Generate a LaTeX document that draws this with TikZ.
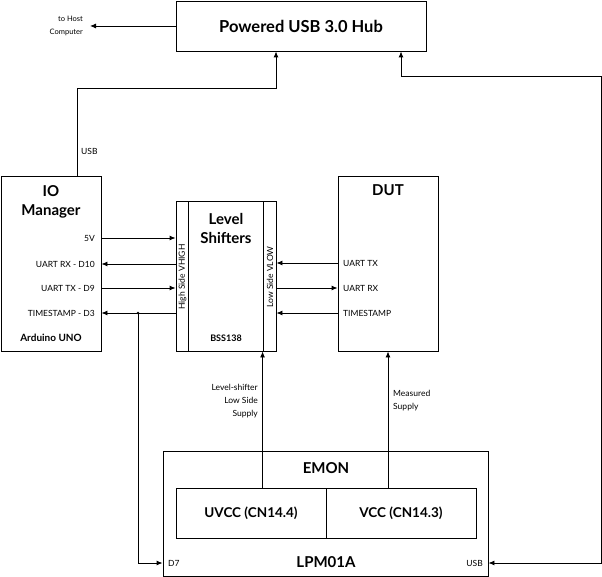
\documentclass[tikz,border=0pt]{standalone}
\usepackage{fontspec}
\setmainfont{Lato}
\usetikzlibrary{arrows.meta}
\begin{document}
\begin{tikzpicture}[x=1pt,y=-1pt,
  box/.style={draw,line width=0.9pt,inner sep=0pt,minimum width=#1},
  lbl/.style={font=\fontsize{8.5}{10}\selectfont,inner sep=0pt},
  ttl/.style={font=\fontsize{15}{19}\selectfont\bfseries,inner sep=0pt,align=center},
  sub/.style={font=\fontsize{10}{12}\selectfont\bfseries,inner sep=0pt},
  conn/.style={line width=0.9pt},
  arr/.style={conn,-{Latex[length=6pt,width=5pt]}},
  darr/.style={conn,{Latex[length=6pt,width=5pt]}-{Latex[length=6pt,width=5pt]}}]
\useasboundingbox (0,0) rectangle (602,577);
% boxes
\node[box=250pt,minimum height=50pt] (hub) at (301,26) {};
\node[ttl,font=\fontsize{16.5}{20}\selectfont\bfseries] (hubt) at (301,26) {Powered USB 3.0 Hub};
\node[box=100pt,minimum height=175pt] (io) at (51,263.5) {};
\node[ttl] (iot) at (51,202) {IO\\Manager};
\node[sub] (iosub) at (51,338) {Arduino UNO};
\node[box=100pt,minimum height=150pt] (ls) at (226,276) {};
\node[box=12pt,minimum height=150pt] (hs) at (182,276) {};
\node[box=13pt,minimum height=150pt] (lw) at (269.5,276) {};
\node[lbl,rotate=90] (hst) at (182.5,277) {High Side VHIGH};
\node[lbl,rotate=90] (lwt) at (270,277) {Low Side VLOW};
\node[ttl] (lst) at (226,228) {Level\\Shifters};
\node[sub,font=\fontsize{9}{11}\selectfont\bfseries] (lssub) at (226,338) {BSS138};
\node[box=100pt,minimum height=175pt] (dut) at (388,263.5) {};
\node[ttl] (dutt) at (388,190) {DUT};
\node[box=325pt,minimum height=125pt] (lpm) at (325.5,513.5) {};
\node[ttl] (emon) at (326,468) {EMON};
\node[ttl] (lpmt) at (326,562) {LPM01A};
\node[box=150pt,minimum height=50pt,font=\fontsize{13.5}{16}\selectfont\bfseries] (uvcc) at (251,513) {UVCC (CN14.4)};
\node[box=150pt,minimum height=50pt,font=\fontsize{13.5}{16}\selectfont\bfseries] (vcc) at (401,513) {VCC (CN14.3)};
% pin labels
\node[lbl,anchor=east] (p5v) at (95,238) {5V};
\node[lbl,anchor=east] (prx) at (95,264) {UART RX - D10};
\node[lbl,anchor=east] (ptx) at (95,288) {UART TX - D9};
\node[lbl,anchor=east] (pts) at (95,313) {TIMESTAMP - D3};
\node[lbl,anchor=west] (dtx) at (343,263) {UART TX};
\node[lbl,anchor=west] (drx) at (343,288) {UART RX};
\node[lbl,anchor=west] (dts) at (343,313) {TIMESTAMP};
\node[lbl,anchor=west] (d7) at (168,563) {D7};
\node[lbl,anchor=east] (usbp) at (483,563) {USB};
\node[lbl,anchor=west] (usbl) at (81,151) {USB};
\node[lbl,anchor=east,align=right,font=\fontsize{7.5}{13}\selectfont] (host) at (83,26) {to Host\\Computer};
\node[lbl,anchor=east,align=right,font=\fontsize{8.5}{13}\selectfont] (lss) at (258,401) {Level-shifter\\Low Side\\Supply};
\node[lbl,anchor=west,align=left,font=\fontsize{8.5}{13}\selectfont] (ms) at (393,400.5) {Measured\\Supply};
% coordinates
\coordinate (hostend) at (90,26);
\coordinate (dot) at (138,313);
% connectors
\draw[arr] (hub.west) -- (hostend);
\draw[arr] (io.north -| 77,0) -- (77,88) -- (276,88) -- (hub.south -| 276,0);
\draw[darr] (hub.south -| 401,0) -- (401,76) -- (601,76) -- (601,563) -- (lpm.east |- usbp);
\draw[arr] (io.east |- p5v) -- (hs.west |- p5v);
\draw[arr] (hs.west |- prx) -- (io.east |- prx);
\draw[arr] (io.east |- ptx) -- (hs.west |- ptx);
\draw[arr] (hs.west |- pts) -- (io.east |- pts);
\fill (dot) circle (1.3pt);
\draw[arr] (dot) -- (dot |- d7) -- (lpm.west |- d7);
\draw[arr] (dut.west |- dtx) -- (lw.east |- dtx);
\draw[arr] (lw.east |- drx) -- (dut.west |- drx);
\draw[arr] (dut.west |- dts) -- (lw.east |- dts);
\draw[arr] (uvcc.north -| lw.west) -- (lw.south west);
\draw[arr] (vcc.north -| dut.south) -- (dut.south);
\end{tikzpicture}
\end{document}
